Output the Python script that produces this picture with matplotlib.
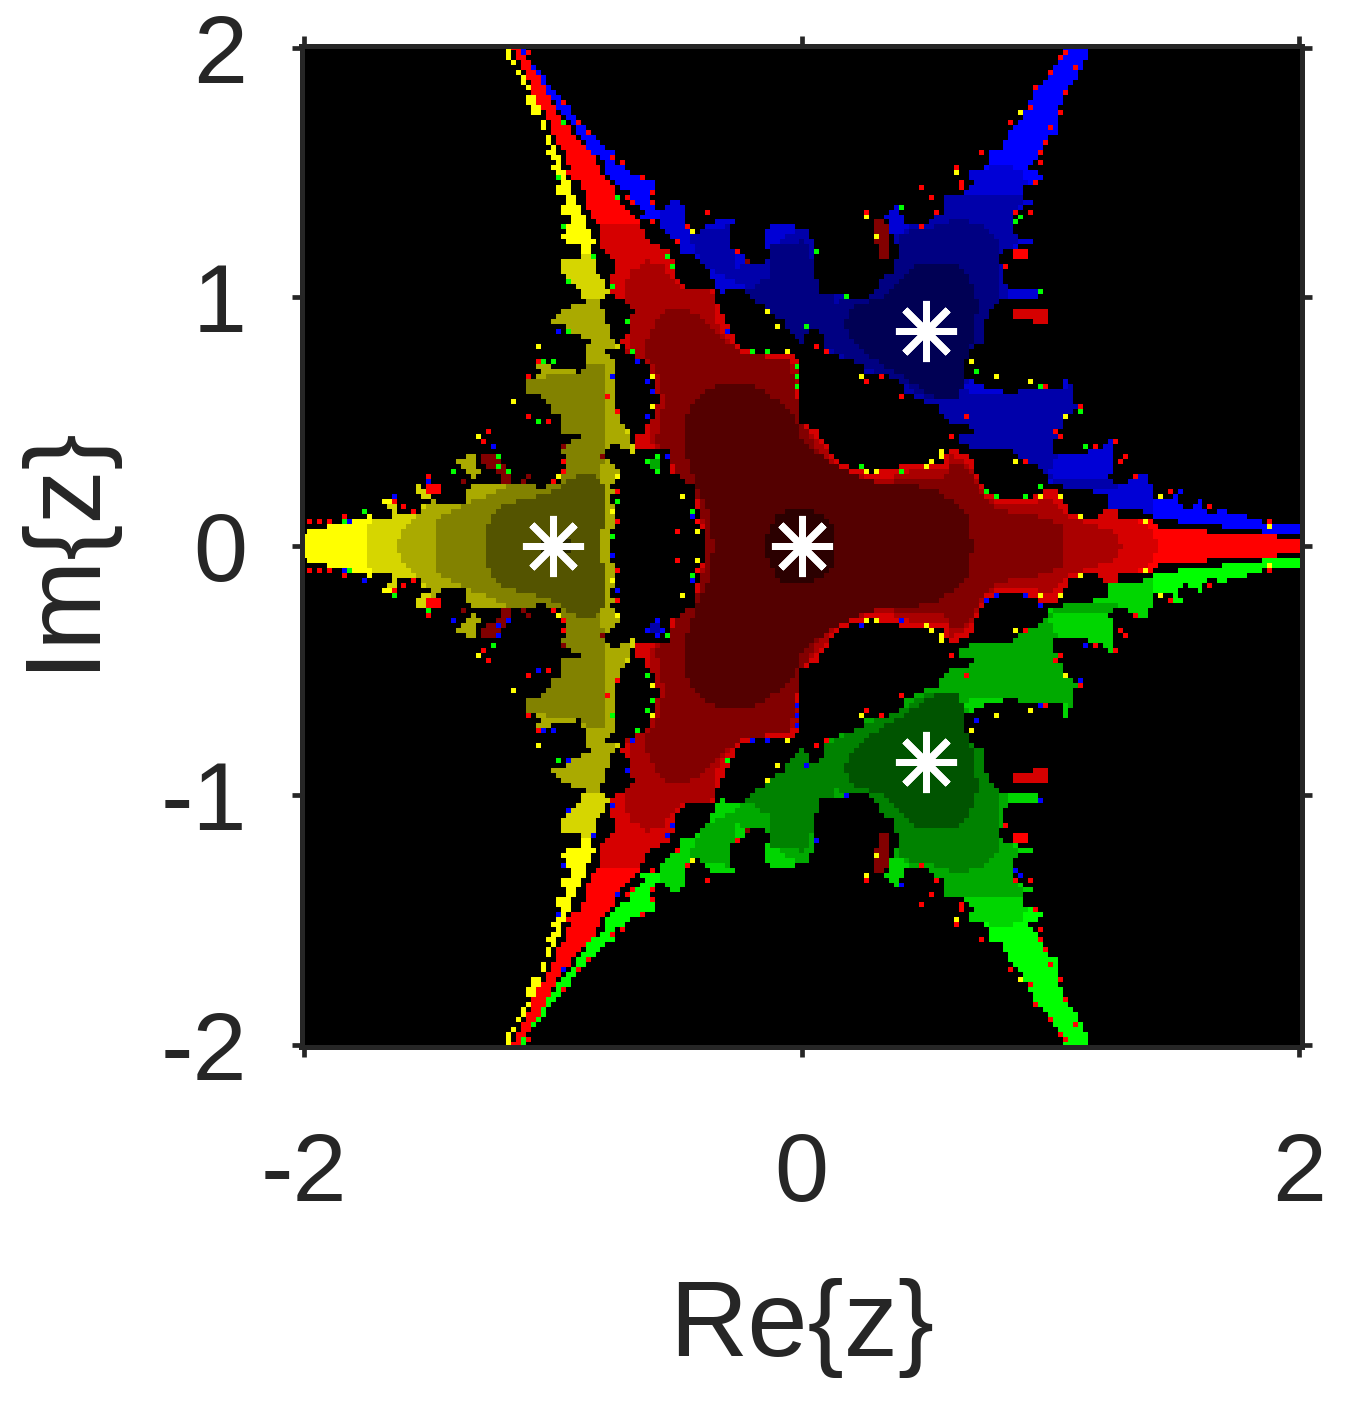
import numpy as np
import matplotlib
matplotlib.use("Agg")
import matplotlib.pyplot as plt
from matplotlib.colors import ListedColormap
from matplotlib.path import Path

plt.rcParams['font.family'] = ['Liberation Sans', 'DejaVu Sans']
plt.rcParams['axes.unicode_minus'] = False

# ---- values, in (Re z, Im z) ----
X_TICKS = [-2, 0, 2]
Y_TICKS = [-2, -1, 0, 1, 2]
ROOTS_RE = [0.0, -1.0, 0.5, 0.5]
ROOTS_IM = [0.0, 0.0, 0.866, -0.866]
BRIGHTNESS = [1.0, 0.84, 0.67, 0.51, 0.33, 0.17]

# upper half of the central basin (mirrored about the real axis)
RED_OUTLINE = [(2.01,0),(2.01,.03),(1.796,.052),(1.556,.064),(1.436,.08),(1.396,.112),(1.268,.112),(1.26,.152),(1.204,.152),(1.196,.116),(1.108,.116),(1.064,.152),(1.048,.212),(.984,.232),(.904,.192),(.824,.184),(.744,.216),(.696,.292),(.676,.372),(.584,.392),(.568,.332),(.436,.332),(.304,.296),(.196,.312),(.128,.356),(.064,.464),(-.004,.492),(-.004,.744),(-.056,.772),(-.244,.784),(-.284,.852),(-.312,.916),(-.352,.984),(-.352,1.024),(-.456,1.036),(-.512,1.092),(-.524,1.172),(-.552,1.196),(-.616,1.224),(-.656,1.292),(-.664,1.316),(-.724,1.372),(-.752,1.436),(-.804,1.504),(-.844,1.572),(-.884,1.624),(-.924,1.664),(-.992,1.756),(-1.032,1.836),(-1.072,1.904),(-1.112,1.956),(-1.136,2.01),(-1.172,2.01),(-1.136,1.932),(-1.084,1.852),(-1.076,1.784),(-1.032,1.744),(-1.016,1.692),(-.976,1.612),(-.944,1.556),(-.936,1.516),(-.952,1.492),(-.896,1.464),(-.872,1.412),(-.856,1.332),(-.816,1.292),(-.816,1.212),(-.776,1.172),(-.752,1.144),(-.756,1.092),(-.776,1.052),(-.776,1.012),(-.676,.956),(-.696,.852),(-.724,.836),(-.712,.772),(-.644,.756),(-.604,.716),(-.576,.584),(-.604,.504),(-.636,.492),(-.632,.452),(-.676,.452),(-.672,.396),(-.536,.384),(-.524,.332),(-.532,.292),(-.484,.276),(-.432,.236),(-.436,.184),(-.416,.132),(-.392,.052),(-.396,0)]
RED_TIER2 = [(1.436,0),(1.396,.072),(1.196,.184),(.796,.464),(0,.824),(-.404,1.104),(-.604,1.284),(-.804,1.284),(-.804,0)]
RED_TIER3 = [(1.284,0),(1.256,.056),(1.156,.092),(1.056,.124),(.996,.192),(.916,.172),(.816,.164),(.736,.196),(.696,.272),(.656,.344),(.596,.364),(.576,.304),(.436,.304),(.316,.264),(.196,.292),(.136,.336),(.076,.424),(.016,.484),(-.024,.604),(-.004,.704),(-.064,.752),(-.244,.764),(-.304,.832),(-.352,.904),(-.356,.984),(-.364,1.024),(-.484,1.024),(-.524,1.076),(-.564,1.132),(-.624,1.144),(-.696,1.096),(-.716,.984),(-.692,.864),(-.704,.764),(-.624,.724),(-.584,.584),(-.604,.484),(-.624,.424),(-.532,.364),(-.504,.284),(-.424,.224),(-.416,.144),(-.384,.044),(-.384,0)]
RED_TIER4 = [(1.044,0),(1.044,.084),(.936,.124),(.796,.144),(.736,.184),(.696,.264),(.644,.324),(.596,.336),(.576,.272),(.416,.272),(.316,.244),(.196,.264),(.116,.324),(.056,.404),(.008,.484),(-.024,.604),(-.044,.704),(-.064,.756),(-.224,.764),(-.304,.816),(-.364,.884),(-.424,.932),(-.484,.956),(-.564,.936),(-.616,.852),(-.636,.784),(-.584,.704),(-.556,.584),(-.572,.484),(-.584,.424),(-.532,.356),(-.484,.264),(-.424,.204),(-.396,.104),(-.38,0)]
RED_TIER5 = [(.684,0),(.664,.132),(.624,.172),(.516,.236),(.304,.256),(.236,.276),(.156,.316),(.056,.376),(-.004,.424),(-.024,.504),(-.072,.556),(-.136,.612),(-.216,.656),(-.296,.656),(-.376,.632),(-.444,.564),(-.476,.484),(-.472,.396),(-.452,.316),(-.424,.244),(-.38,.144),(-.356,0)]
RED_TIER6 = [(.124,0),(.124,.076),(.084,.124),(.036,.152),(-.044,.152),(-.092,.136),(-.136,.076),(-.152,0)]

YELLOW_OUTLINE = [(-2.01,0),(-2.01,.056),(-1.936,.076),(-1.856,.096),(-1.856,.112),(-1.756,.112),(-1.756,.152),(-1.716,.116),(-1.656,.116),(-1.656,.152),(-1.696,.192),(-1.636,.176),(-1.636,.136),(-1.536,.136),(-1.516,.176),(-1.476,.176),(-1.532,.196),(-1.556,.236),(-1.536,.256),(-1.484,.204),(-1.456,.176),(-1.352,.176),(-1.336,.236),(-1.316,.264),(-1.364,.312),(-1.392,.344),(-1.336,.364),(-1.336,.396),(-1.316,.356),(-1.296,.304),(-1.304,.256),(-1.176,.252),(-1.136,.244),(-1.084,.264),(-1.056,.224),(-1.016,.252),(-.964,.256),(-.952,.344),(-.972,.412),(-.904,.424),(-.892,.456),(-.976,.456),(-.976,.476),(-.956,.516),(-1.004,.532),(-1.004,.556),(-1.036,.596),(-1.112,.624),(-1.112,.656),(-1.072,.676),(-1.056,.704),(-1.076,.756),(-1.024,.724),(-.896,.696),(-.872,.732),(-.876,.792),(-.844,.824),(-.876,.824),(-.896,.844),(-.956,.864),(-.956,.884),(-1.016,.884),(-1.016,.916),(-.976,.924),(-.972,.956),(-.884,.964),(-.876,.984),(-.932,1.076),(-.976,1.084),(-.976,1.136),(-.952,1.156),(-.896,1.156),(-.896,1.212),(-.976,1.224),(-.976,1.244),(-.956,1.264),(-.916,1.316),(-.956,1.324),(-.976,1.356),(-.952,1.372),(-.936,1.396),(-.996,1.424),(-.996,1.44),(-.976,1.464),(-.976,1.496),(-1.016,1.512),(-.984,1.536),(-1.036,1.572),(-1.016,1.604),(-1.036,1.652),(-1.056,1.704),(-1.076,1.716),(-1.036,1.724),(-1.096,1.744),(-1.096,1.76),(-1.116,1.796),(-1.092,1.812),(-1.136,1.864),(-1.136,1.884),(-1.176,1.944),(-1.196,1.964),(-1.196,2.01),(-1.176,2.01),(-1.144,1.904),(-1.104,1.864),(-1.076,1.816),(-1.076,1.784),(-1.056,1.756),(-1.036,1.704),(-1.016,1.644),(-.996,1.612),(-.976,1.572),(-.972,1.544),(-.956,1.492),(-.924,1.436),(-.916,1.384),(-.876,1.332),(-.856,1.264),(-.836,1.224),(-.856,1.172),(-.836,1.144),(-.836,1.104),(-.796,1.064),(-.776,1.024),(-.804,.984),(-.792,.904),(-.764,.876),(-.764,.824),(-.716,.784),(-.792,.796),(-.776,.756),(-.744,.732),(-.756,.612),(-.752,.544),(-.716,.492),(-.684,.452),(-.676,.376),(-.724,.396),(-.776,.412),(-.792,.356),(-.756,.332),(-.732,.292),(-.744,.256),(-.776,.236),(-.724,.224),(-.772,.212),(-.744,.092),(-.776,.052),(-.764,0)]
YELLOW_TIER2 = [(-1.756,0),(-1.744,.084),(-1.604,.224),(-1.404,.424),(-1.124,.784),(-.964,1.164),(-.804,1.164),(-.644,.984),(-.644,0)]
YELLOW_TIER3 = [(-1.636,0),(-1.584,.096),(-1.484,.184),(-1.444,.384),(-1.084,.504),(-1.112,.684),(-1.044,.984),(-.764,.984),(-.644,0)]
YELLOW_TIER4 = [(-1.476,0),(-1.476,.092),(-1.436,.132),(-1.352,.172),(-1.232,.212),(-1.104,.304),(-1.124,.664),(-.892,.704),(-.836,.736),(-.784,.724),(-.78,.464),(-.804,.304),(-.804,0)]
YELLOW_TIER5 = [(-1.276,0),(-1.276,.036),(-1.256,.104),(-1.216,.156),(-1.116,.192),(-1.016,.212),(-.952,.256),(-.896,.296),(-.844,.296),(-.796,.256),(-.8,.076),(-.816,.076),(-.816,0)]
YELLOW_TIER6 = [(-1.056,0),(-1.056,.036),(-.924,.036),(-.924,0)]

# upper basin; the lower (green) basin is read as its reflection
BLUE_OUTLINE = [(-1.136,2.01),(-1.124,2.01),(-1.096,1.944),(-1.056,1.904),(-1.016,1.852),(-.976,1.796),(-.924,1.756),(-.916,1.704),(-.844,1.664),(-.804,1.612),(-.744,1.572),(-.752,1.524),(-.664,1.516),(-.696,1.484),(-.604,1.476),(-.584,1.452),(-.604,1.396),(-.576,1.344),(-.512,1.396),(-.472,1.372),(-.476,1.332),(-.452,1.272),(-.412,1.244),(-.384,1.296),(-.264,1.316),(-.296,1.264),(-.284,1.196),(-.232,1.156),(-.192,1.116),(-.136,1.156),(-.144,1.224),(-.136,1.296),(-.056,1.296),(-.004,1.264),(.036,1.284),(.044,1.164),(.056,1.084),(.076,1.004),(.276,.996),(.316,1.064),(.368,1.104),(.388,1.184),(.364,1.244),(.336,1.324),(.384,1.364),(.416,1.284),(.496,1.284),(.568,1.344),(.576,1.404),(.644,1.416),(.684,1.444),(.676,1.504),(.744,1.524),(.756,1.584),(.796,1.584),(.824,1.644),(.864,1.696),(.904,1.752),(.928,1.816),(1.008,1.904),(1.064,2.01),(1.164,2.01),(1.116,1.892),(1.076,1.852),(1.036,1.772),(1.024,1.704),(1.036,1.664),(.984,1.636),(.956,1.584),(.916,1.516),(.976,1.476),(.904,1.452),(.884,1.396),(.956,1.372),(.876,1.356),(.848,1.316),(.848,1.264),(.864,1.236),(.944,1.236),(.928,1.204),(.824,1.196),(.796,1.156),(.804,1.092),(.816,1.052),(.848,1.032),(.956,1.032),(.94,.99),(.80,.99),(.768,.956),(.724,.892),(.728,.824),(.664,.784),(.648,.676),(.704,.652),(.784,.624),(.848,.612),(.888,.632),(1.048,.624),(1.048,.696),(1.096,.632),(1.076,.584),(1.116,.556),(1.048,.492),(1.024,.452),(1.008,.372),(1.088,.372),(1.196,.384),(1.244,.424),(1.256,.344),(1.236,.264),(1.304,.252),(1.328,.276),(1.396,.296),(1.404,.196),(1.484,.196),(1.488,.216),(1.536,.232),(1.504,.184),(1.536,.144),(1.608,.192),(1.624,.132),(1.656,.116),(1.664,.152),(1.704,.152),(1.704,.116),(1.744,.132),(1.784,.132),(1.784,.096),(1.836,.112),(1.844,.096),(1.916,.084),(2.0,.092),(2.01,.056),(1.844,.056),(1.836,.076),(1.716,.076),(1.624,.096),(1.524,.096),(1.484,.116),(1.408,.116),(1.384,.136),(1.344,.156),(1.224,.156),(1.224,.176),(1.244,.212),(1.144,.224),(.996,.252),(.968,.304),(.928,.332),(.864,.364),(.848,.396),(.688,.396),(.624,.412),(.624,.436),(.688,.452),(.704,.476),(.608,.492),(.568,.504),(.556,.556),(.476,.584),(.424,.612),(.396,.664),(.328,.684),(.264,.692),(.236,.732),(.168,.756),(.088,.796),(.076,.864),(.036,.864),(-.004,.804),(-.064,.884),(-.124,.944),(-.204,.984),(-.244,1.032),(-.276,1.024),(-.332,1.016),(-.376,1.104),(-.416,1.156),(-.512,1.192),(-.464,1.212),(-.536,1.236),(-.556,1.264),(-.576,1.304),(-.656,1.316),(-.616,1.336),(-.664,1.372),(-.696,1.424),(-.736,1.436),(-.752,1.476),(-.796,1.492),(-.796,1.544),(-.836,1.572),(-.864,1.596),(-.884,1.636),(-.916,1.676),(-.936,1.716),(-.976,1.744),(-1.004,1.796),(-1.056,1.864),(-1.096,1.932)]
BLUE_TIER2 = [(-.576,1.224),(-.576,1.364),(-.404,1.424),(.396,1.424),(.808,1.536),(.864,1.516),(.896,1.484),(1.196,.984),(1.416,.304),(1.416,.104),(1.196,.104),(.636,.344),(-.004,.744),(-.324,.984)]
BLUE_TIER3 = [(-.456,1.252),(-.284,1.284),(-.264,1.104),(-.004,1.284),(.056,1.284),(.056,1.024),(.316,1.024),(.356,1.224),(.496,1.324),(.576,1.404),(.884,1.404),(.836,1.024),(.736,.804),(.656,.644),(.696,.604),(1.116,.644),(1.116,.504),(.996,.304),(1.036,.264),(1.276,.264),(1.276,.224),(1.056,.224),(.876,.344),(.636,.404),(.576,.504),(.396,.604),(.236,.704),(.076,.804),(-.004,.804),(-.124,.924),(-.244,1.044),(-.404,1.124)]
BLUE_TIER4 = [(.396,1.252),(.496,1.272),(.636,1.312),(.716,1.284),(.784,1.236),(.796,1.144),(.796,.996),(.736,.904),(.736,.804),(.664,.764),(.656,.644),(.596,.584),(.516,.584),(.416,.644),(.276,.704),(.156,.764),(.076,.804),(.056,.864),(.096,.964),(.256,1.004),(.316,1.064),(.376,1.164)]
BLUE_TIER4_LOBE = [(-.124,1.204),(.016,1.224),(.056,1.104),(.136,.984),(.076,.824),(-.004,.804),(-.124,.924),(-.224,1.024),(-.124,1.084)]
BLUE_TIER5 = [(.528,1.136),(.624,1.124),(.684,1.052),(.704,.984),(.696,.864),(.656,.744),(.656,.644),(.616,.584),(.516,.604),(.416,.672),(.296,.744),(.216,.812),(.168,.884),(.196,.952),(.316,.996),(.376,1.044),(.436,1.116)]

# small clusters in the bays, upper half: (colour, tier, outline)
CLUSTERS = [
    ('r', 3, [(.284,1.316),(.336,1.316),(.348,1.224),(.344,1.144),(.308,1.144),(.304,1.204),(.284,1.224)]),
    ('r', 1, [(.848,.956),(.984,.956),(.984,.896),(.92,.90),(.848,.92)]),
    ('r', 0, [(.848,1.184),(.916,1.184),(.916,1.144),(.848,1.144)]),
    ('r', 2, [(.724,.896),(.836,.896),(.836,.88),(.724,.88)]),
    ('r', 3, [(-1.296,.376),(-1.232,.376),(-1.212,.332),(-1.164,.292),(-1.164,.252),(-1.196,.252),(-1.244,.312),(-1.276,.316),(-1.296,.356)]),
    ('r', 0, [(-1.512,.252),(-1.456,.252),(-1.456,.216),(-1.512,.216)]),
    ('g', 0, [(-.636,.356),(-.56,.356),(-.56,.324),(-.636,.324)]),
    ('g', 0, [(-.596,.376),(-.576,.376),(-.576,.296),(-.596,.296)]),
    ('g', 2, [(-.604,.356),(-.568,.356),(-.568,.316),(-.604,.316)]),
]

SPECKS_RED = [(-1.092,1.972),(-.952,1.772),(-.892,1.692),(-.852,1.652),(-.752,1.552),(-.712,1.532),(-.632,1.472),(-.692,1.392),(-.672,1.372),(-.592,1.412),(-.592,1.372),(-.592,1.292),(-.452,1.272),(-.492,1.212),(-.372,1.332),(-.252,1.172),(.264,1.332),(.488,1.272),(.488,1.432),(.628,1.512),(.648,1.464),(.648,1.44),(.548,1.332),(.528,1.392),(.728,1.572),(.848,1.692),(.928,1.764),(.948,1.832),(1.008,1.892),(1.048,1.952),(1.068,1.972),(1.108,1.912),(1.068,1.812),(1.048,1.732),(1.008,1.672),(.988,1.612),(.968,1.572),(.964,1.532),(.948,1.452),(.868,1.332),(.924,1.332),(.828,1.112),(.068,.792),(.108,.772),(.328,.672),(.268,.652),(.396,.592),(.668,.512),(.608,.432),(.988,.632),(1.128,.552),(1.028,.452),(.908,.348),(1.292,.368),(1.272,.348),(1.332,.288),(1.472,.228),(1.632,.168),(1.888,.108),(1.252,.428),(1.172,.408),(1.032,.448),(-1.988,.096),(-1.932,.096),(-1.892,.096),(-1.836,.124),(-1.492,.288),(-1.252,.468),(-1.288,.412),(-.992,.268),(-.956,.332),(-1.632,.184),(-1.596,.156),(-1.556,.148),(-1.092,.528),(-1.012,.508),(-1.052,.744),(-1.092,.688),(-.772,.608),(-.732,.548),(-.952,.304),(-.732,.228),(-.732,.108),(-.412,.108),(-.492,.068)]
SPECKS_DARK_RED = [(-.212,1.132),(-1.112,.268),(-1.092,.288),(-1.352,.268),(-.968,.392),(-.792,.368)]
SPECKS_YELLOW = [(-.432,1.252),(.268,1.312),(.308,1.232),(.628,1.492),(.888,1.732),(.688,.732),(.788,.672),(.928,.668),(1.068,.512),(.248,.672),(.568,.384),(.568,.352),(.868,.332),(.968,.208),(1.048,.208),(1.128,.128),(.308,.308),(.268,.308),(.508,.328),(.528,.344),(1.388,.108),(1.432,.208),(1.888,.088),(-1.292,.448),(-.972,.288),(-1.052,.792),(-1.152,.588),(-.732,.288),(-.752,.148),(-.472,.208),(-.412,.068),(-.608,.688),(-.592,.568),(-.052,.772),(-.092,.872),(-.132,.932)]
SPECKS_GREEN = [(-.952,1.692),(-.732,1.392),(-.532,1.152),(-.512,1.112),(-.752,1.032),(-.832,1.152),(-.952,1.272),(-.972,1.472),(-.932,1.052),(.068,1.172),(.188,.992),(.408,1.352),(.888,1.312),(.868,1.292),(.968,1.012),(.028,.872),(.708,.692),(.968,.632),(1.128,.532),(1.148,.408),(.968,.248),(.748,.228),(.788,.208),(.908,.208),(.248,.328),(.408,.308),(-1.212,.368),(-1.212,.328),(-1.172,.308),(-1.392,.308),(-1.752,.148),(-1.832,.108),(-.932,.852),(-1.032,.732),(-.992,.732),(-1.052,.508),(-.732,.188),(-.752,.048),(-.692,.892),(-.672,.772),(-.432,.148),(-.192,.788),(-.132,.788),(-.02,.672),(-.02,.712),(-.02,.632)]
SPECKS_BLUE = [(-1.812,.108),(-1.632,.208),(-1.492,.268),(-1.232,.404),(-.972,.852),(-.752,.688),(-.652,.732),(-.612,.668),(-.592,.628),(-.612,.528),(-.532,.368),(-.432,.116),(-.292,.852)]

# ---- build the cell grid ----
cell = 0.02
re = np.arange(201) * cell - 2.0
im = np.arange(201) * cell - 2.0
RR, II = np.meshgrid(re, im)
pts = np.column_stack([RR.ravel(), II.ravel()])
HUES = {'y': (1, 1, 0), 'r': (1, 0, 0), 'b': (0, 0, 1), 'g': (0, 1, 0)}
ORDER = ['y', 'r', 'b', 'g']
palette = [(0, 0, 0)]
for h in ORDER:
    for b in BRIGHTNESS:
        palette.append(tuple(c * b for c in HUES[h]))
def code(h, tier):
    return 1 + ORDER.index(h) * 6 + tier

def inside(poly):
    return Path(poly + [poly[0]]).contains_points(pts).reshape(RR.shape)
def both_sides(poly):
    return poly + [(a, -b) for a, b in poly[::-1]]
def flip(poly):
    return [(a, -b) for a, b in poly]

grid = np.zeros(RR.shape, dtype=int)
def paint_basin(h, outline, tiers):
    outer = inside(outline)
    grid[outer] = code(h, 0)
    for t, polys in tiers:
        for p in polys:
            grid[outer & inside(p)] = code(h, t)

blue_tiers = [(1, [BLUE_TIER2]), (2, [BLUE_TIER3]), (3, [BLUE_TIER4, BLUE_TIER4_LOBE]), (4, [BLUE_TIER5])]
paint_basin('y', both_sides(YELLOW_OUTLINE), [(i + 1, [both_sides(p)]) for i, p in enumerate(
    [YELLOW_TIER2, YELLOW_TIER3, YELLOW_TIER4, YELLOW_TIER5, YELLOW_TIER6])])
paint_basin('b', BLUE_OUTLINE, blue_tiers)
paint_basin('g', flip(BLUE_OUTLINE), [(t, [flip(p) for p in ps]) for t, ps in blue_tiers])
paint_basin('r', both_sides(RED_OUTLINE), [(i + 1, [both_sides(p)]) for i, p in enumerate(
    [RED_TIER2, RED_TIER3, RED_TIER4, RED_TIER5, RED_TIER6])])

SWAP = {'g': 'b', 'b': 'g', 'r': 'r', 'y': 'y'}
for h, t, p in CLUSTERS:
    grid[inside(p)] = code(h, t)
    grid[inside(flip(p))] = code(SWAP[h], t)

def cell_of(v):
    return int(round((v + 2.0) / cell))
def put(specks, h, t=0):
    for a, b in specks:
        grid[cell_of(b), cell_of(a)] = code(h, t)
        grid[cell_of(-b), cell_of(a)] = code(SWAP[h], t)
put(SPECKS_RED, 'r')
put(SPECKS_DARK_RED, 'r', 3)
put(SPECKS_YELLOW, 'y')
put(SPECKS_GREEN, 'g')
put(SPECKS_BLUE, 'b')

# ---- draw ----
W, H = 1346, 1409
INK = '#262626'
fig = plt.figure(figsize=(W / 100, H / 100), dpi=100, facecolor='white')
ax = fig.add_axes([301.5 / W, 1 - 1047.0 / H, 1000.0 / W, 1001.5 / H])
ax.imshow(grid, origin='lower', cmap=ListedColormap(palette), vmin=-0.5, vmax=len(palette) - 0.5,
          extent=(-2.01, 2.01, -2.01, 2.01), interpolation='nearest', aspect='auto')
ax.plot(ROOTS_RE, ROOTS_IM, linestyle='none', marker=(8, 2, 0), color='white',
        markersize=44, markeredgewidth=5)
ax.set_xlim(-2.01, 2.01)
ax.set_ylim(-2.01, 2.01)
ax.set_xticks(X_TICKS)
ax.set_yticks(Y_TICKS)
ax.tick_params(direction='out', top=True, right=True, length=7.2, width=3.4, color=INK,
               labelsize=70, labelcolor=INK)
ax.tick_params(axis='x', pad=53)
ax.tick_params(axis='y', pad=32)
for s in ax.spines.values():
    s.set_linewidth(3.6)
    s.set_color(INK)
ax.set_xlabel('Re{z}', fontsize=78, color=INK, labelpad=41)
ax.set_ylabel('Im{z}', fontsize=78, color=INK, labelpad=34)
fig.savefig('out.png', dpi=100)
